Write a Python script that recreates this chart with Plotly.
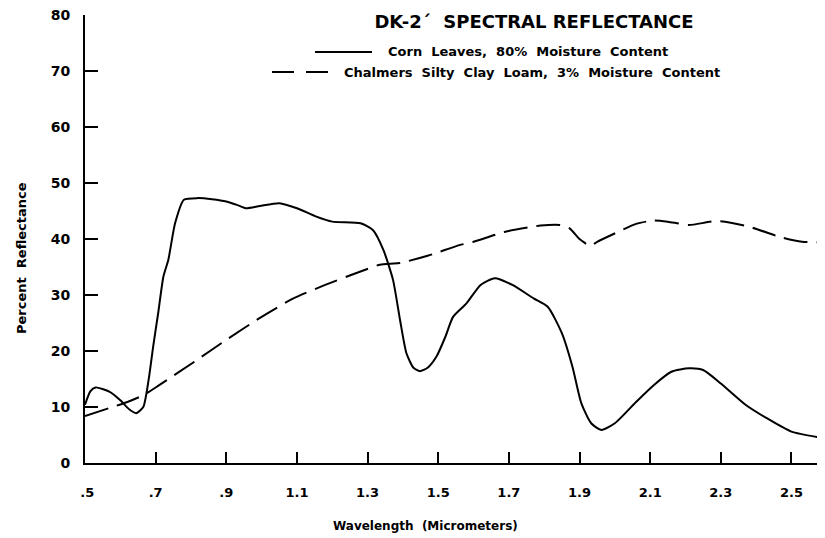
import plotly.graph_objects as go

# ---- data ----
corn_wavelength = [0.50, 0.515, 0.53, 0.57, 0.60, 0.625, 0.645, 0.665, 0.68, 0.693, 0.707, 0.722,
                   0.736, 0.755, 0.78, 0.82, 0.86, 0.90, 0.93, 0.955, 0.995, 1.05, 1.10, 1.155,
                   1.20, 1.28, 1.315, 1.345, 1.372, 1.392, 1.41, 1.43, 1.448, 1.47, 1.495, 1.52,
                   1.542, 1.58, 1.62, 1.66, 1.71, 1.77, 1.81, 1.85, 1.88, 1.905, 1.933, 1.962,
                   2.00, 2.06, 2.11, 2.16, 2.21, 2.25, 2.30, 2.37, 2.43, 2.50, 2.595]
corn_reflectance = [10.4, 12.8, 13.5, 12.7, 11.2, 9.6, 8.9, 10.0, 14.8, 20.8, 26.7, 33.3,
                    36.3, 42.8, 47.0, 47.3, 47.1, 46.7, 46.1, 45.5, 45.9, 46.4, 45.5, 44.0,
                    43.1, 42.8, 41.6, 38.0, 32.7, 25.5, 19.6, 17.0, 16.4, 17.0, 19.0, 22.5,
                    26.1, 28.5, 31.8, 33.0, 31.8, 29.4, 27.9, 23.2, 17.2, 10.7, 7.1, 5.9,
                    7.1, 10.9, 13.9, 16.3, 16.9, 16.6, 14.2, 10.4, 8.0, 5.6, 4.4]

soil_wavelength = [0.50, 0.62, 0.665, 0.71, 0.81, 0.90, 1.00, 1.09, 1.18, 1.28, 1.335, 1.39,
                   1.47, 1.56, 1.60, 1.69, 1.79, 1.845, 1.872, 1.90, 1.915, 1.93, 1.95, 2.00,
                   2.06, 2.11, 2.15, 2.21, 2.29, 2.38, 2.47, 2.53, 2.595]
soil_reflectance = [8.4, 10.9, 12.1, 13.9, 18.1, 22.0, 26.1, 29.4, 31.8, 34.2, 35.4, 35.7,
                    37.0, 38.9, 39.5, 41.3, 42.4, 42.5, 41.9, 40.0, 39.3, 38.7, 39.5, 41.0,
                    42.7, 43.3, 43.1, 42.5, 43.2, 42.2, 40.3, 39.5, 39.4]

x_tickvals = [0.5, 0.7, 0.9, 1.1, 1.3, 1.5, 1.7, 1.9, 2.1, 2.3, 2.5]
x_ticktext = [" .5", ".7", ".9", "1.1", "1.3", "1.5", "1.7", "1.9", "2.1", "2.3", "2.5"]
y_tickvals = [0, 10, 20, 30, 40, 50, 60, 70, 80]

title_text = "DK-2´  SPECTRAL REFLECTANCE"
corn_label = "Corn  Leaves,  80%  Moisture  Content"
soil_label = "Chalmers  Silty  Clay  Loam,  3%  Moisture  Content"
x_title = "Wavelength  (Micrometers)"
y_title = "Percent  Reflectance"

FONT = "DejaVu Sans"

# The page body keeps the browser's default 8px margin, so the figure is
# sized 8px smaller and all page positions below are shifted by that amount.
fig = go.Figure()
fig.add_trace(go.Scatter(
    x=corn_wavelength, y=corn_reflectance, mode="lines",
    line=dict(color="black", width=2, shape="spline", smoothing=0.6),
    showlegend=False, hoverinfo="skip"))
fig.add_trace(go.Scatter(
    x=soil_wavelength, y=soil_reflectance, mode="lines",
    line=dict(color="black", width=2, dash="24px,9px", shape="spline", smoothing=0.6),
    showlegend=False, hoverinfo="skip"))

fig.update_layout(
    width=817, height=530,
    margin=dict(l=77, r=0, t=7, b=75, autoexpand=False),
    paper_bgcolor="white", plot_bgcolor="white",
    font=dict(family=FONT, color="black"),
    title=dict(text=title_text, x=(534 - 85) / 740, xref="paper", xanchor="center",
               y=1 - 14 / 530, yanchor="middle",
               font=dict(family=FONT, size=18, weight="bold", color="black")),
)

fig.update_xaxes(
    range=[0.5, 2.595], showgrid=False, zeroline=False, automargin=False,
    showline=True, linecolor="black", linewidth=2,
    ticks="inside", ticklen=11, tickwidth=2, tickcolor="black",
    tickvals=x_tickvals, ticktext=x_ticktext,
    tickfont=dict(family=FONT, size=13, weight="bold"),
    ticklabelstandoff=16, ticklabeloverflow="allow",
)
fig.update_yaxes(
    range=[0, 80], showgrid=False, zeroline=False, automargin=False,
    showline=True, linecolor="black", linewidth=2,
    ticks="inside", ticklen=13, tickwidth=2, tickcolor="black",
    tickvals=y_tickvals,
    tickfont=dict(family=FONT, size=14, weight="bold"),
    ticklabelstandoff=10, ticklabeloverflow="allow",
)

# legend drawn as in the original artwork
fig.add_shape(type="line", xref="paper", yref="paper",
              x0=(315 - 85) / 740, x1=(372 - 85) / 740,
              y0=(463 - 52) / 448, y1=(463 - 52) / 448,
              line=dict(color="black", width=2))
fig.add_shape(type="line", xref="paper", yref="paper",
              x0=(272 - 85) / 740, x1=(331 - 85) / 740,
              y0=(463 - 72) / 448, y1=(463 - 72) / 448,
              line=dict(color="black", width=2, dash="22px,12px"))
fig.add_annotation(text=corn_label, xref="paper", yref="paper",
                   x=(386 - 85) / 740, y=(463 - 52) / 448, xanchor="left", yanchor="middle",
                   showarrow=False, font=dict(family=FONT, size=13, weight="bold"))
fig.add_annotation(text=soil_label, xref="paper", yref="paper",
                   x=(342 - 85) / 740, y=(463 - 72) / 448, xanchor="left", yanchor="middle",
                   showarrow=False, font=dict(family=FONT, size=13, weight="bold"))

# axis titles
fig.add_annotation(text=y_title, xref="paper", yref="paper",
                   x=(21 - 85) / 740, y=(463 - 258) / 448, xanchor="center", yanchor="middle",
                   textangle=-90, showarrow=False,
                   font=dict(family=FONT, size=13, weight="bold"))
fig.add_annotation(text=x_title, xref="paper", yref="paper",
                   x=(425 - 85) / 740, y=(463 - 526) / 448, xanchor="center", yanchor="middle",
                   showarrow=False, font=dict(family=FONT, size=12, weight="bold"))

fig.write_html("out.html")
